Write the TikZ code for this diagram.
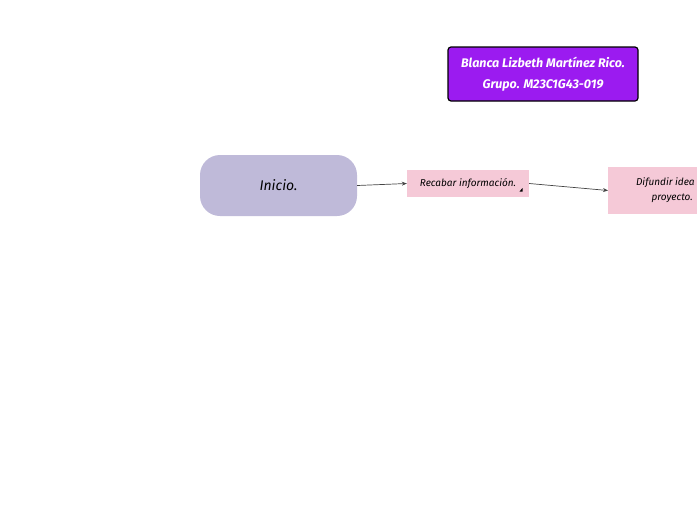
\documentclass[tikz,border=0pt]{standalone}
\usepackage{fontspec}
\setmainfont{Fira Sans}
\usetikzlibrary{arrows.meta}
\definecolor{titlepurple}{HTML}{9B1BF0}
\definecolor{startlilac}{HTML}{BFBAD9}
\definecolor{steppink}{HTML}{F5C9D7}
\definecolor{linegray}{HTML}{444444}
\tikzset{
  titlebox/.style={draw=black, line width=1.2pt, fill=titlepurple, rounded corners=3pt, text=white, font=\fontsize{12.5}{21}\selectfont\bfseries\itshape, align=center, minimum width=190pt, minimum height=54pt, inner sep=0pt},
  startbox/.style={fill=startlilac, rounded corners=20pt, font=\fontsize{14}{16}\selectfont\itshape, minimum width=157pt, minimum height=61pt, inner sep=0pt},
  stepbox/.style={fill=steppink, font=\fontsize{10}{15}\selectfont\itshape, align=center, inner sep=0pt},
  conn/.style={draw=linegray, line width=0.7pt, -{Stealth[length=5pt,width=4pt]}}
}
\begin{document}
\begin{tikzpicture}[x=1pt,y=-1pt]
\useasboundingbox (0,0) rectangle (697,520);
\clip (0,0) rectangle (697,520);
\node[titlebox] (title) at (543,74) {Blanca Lizbeth Martínez Rico.\\Grupo. M23C1G43-019};
\node[startbox] (inicio) at (278.5,185.5) {Inicio.};
\node[stepbox, minimum width=122pt, minimum height=27pt] (recabar) at (468,183.5) {Recabar información.};
\fill[black] (519.5,191.5) -- (522.5,191.5) -- (522.5,188) -- cycle;
\node[stepbox, minimum width=128pt, minimum height=47pt, anchor=west] (difundir) at (608,190.5) {Difundir idea de\\proyecto.};
\draw[conn] (inicio.east) -- (recabar.west);
\draw[conn] (recabar.east) -- (difundir.west);
\end{tikzpicture}
\end{document}
